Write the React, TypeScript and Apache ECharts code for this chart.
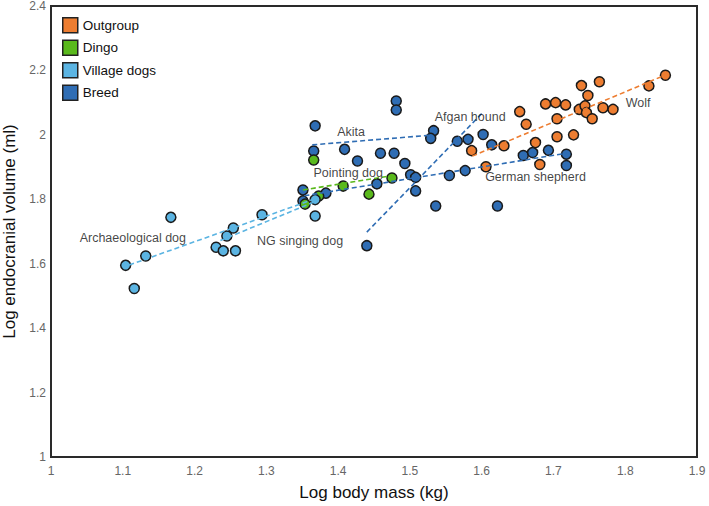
import React, { useEffect, useRef } from "react";
import * as echarts from "echarts";

// ---- Data ----
const seriesNames = ["Outgroup", "Dingo", "Village dogs", "Breed"];
const seriesColors = ["#ED7D31", "#5AB91C", "#5BB4E2", "#2F6DB4"];

const outgroup: number[][] = [
  [1.586, 1.951], [1.606, 1.901], [1.631, 1.966], [1.653, 2.072], [1.662, 2.033],
  [1.675, 1.976], [1.681, 1.908], [1.689, 2.096], [1.703, 2.1], [1.705, 2.05],
  [1.705, 1.994], [1.717, 2.093], [1.728, 2.0], [1.736, 2.079], [1.739, 2.153],
  [1.744, 2.09], [1.746, 2.069], [1.748, 2.122], [1.754, 2.05], [1.764, 2.165],
  [1.769, 2.084], [1.783, 2.079], [1.833, 2.152], [1.856, 2.185],
];

const dingo: number[][] = [
  [1.366, 1.922], [1.354, 1.785], [1.373, 1.81], [1.407, 1.841], [1.443, 1.816], [1.475, 1.866],
];

const villageDogs: number[][] = [
  [1.104, 1.595], [1.116, 1.523], [1.132, 1.624], [1.167, 1.744], [1.23, 1.651],
  [1.24, 1.64], [1.257, 1.64], [1.245, 1.686], [1.254, 1.711], [1.294, 1.752],
  [1.368, 1.799], [1.368, 1.748],
];

const breed: number[][] = [
  [1.368, 2.028], [1.366, 1.95], [1.409, 1.955], [1.427, 1.919], [1.459, 1.943],
  [1.478, 1.943], [1.481, 2.105], [1.481, 2.077], [1.493, 1.911], [1.501, 1.876],
  [1.508, 1.868], [1.508, 1.826], [1.454, 1.848], [1.383, 1.819], [1.351, 1.829],
  [1.351, 1.795], [1.44, 1.656], [1.533, 2.013], [1.529, 1.989], [1.566, 1.98],
  [1.581, 1.986], [1.602, 2.001], [1.614, 1.969], [1.555, 1.874], [1.577, 1.889],
  [1.536, 1.779], [1.622, 1.779], [1.658, 1.936], [1.671, 1.945], [1.693, 1.952],
  [1.718, 1.94], [1.718, 1.905],
];

// dashed trend lines (start, end) and their group colour index
const wolfLine = [[1.587, 1.934], [1.855, 2.185]];
const archaeologicalLine = [[1.109, 1.596], [1.367, 1.801]];
const ngSingingLine = [[1.236, 1.672], [1.367, 1.792]];
const dingoLine = [[1.351, 1.829], [1.474, 1.873]];
const akitaLine = [[1.364, 1.969], [1.529, 1.999]];
const shepherdLine = [[1.353, 1.811], [1.718, 1.943]];
const afganLine = [[1.44, 1.698], [1.601, 2.068]];

const trendLines = [
  { line: wolfLine, group: 0 },
  { line: dingoLine, group: 1 },
  { line: archaeologicalLine, group: 2 },
  { line: ngSingingLine, group: 2 },
  { line: akitaLine, group: 3 },
  { line: shepherdLine, group: 3 },
  { line: afganLine, group: 3 },
];

const annotationTexts = [
  "Archaeological dog", "NG singing dog", "Akita", "Pointing dog",
  "Afgan hound", "German shepherd", "Wolf",
];
const annotationAt = [
  [1.114, 1.68], [1.347, 1.672], [1.418, 2.009], [1.414, 1.883],
  [1.584, 2.056], [1.675, 1.868], [1.818, 2.098],
];

const xMin = 1, xMax = 1.9, xStep = 0.1;
const yMin = 1, yMax = 2.4, yStep = 0.2;
const xTitle = "Log body mass (kg)";
const yTitle = "Log endocranial volume (ml)";

const FONT = "Liberation Sans, Arial, sans-serif";

export default function App() {
  const ref = useRef<HTMLDivElement>(null);
  useEffect(() => {
    if (!ref.current) return;
    const chart = echarts.init(ref.current, undefined, { renderer: "svg" });
    const groups = [outgroup, dingo, villageDogs, breed];
    const drawOrder = [3, 1, 2, 0];
    const scatterSeries = drawOrder.map((g) => ({
      type: "scatter",
      name: seriesNames[g],
      data: groups[g],
      symbol: "circle",
      symbolSize: 10,
      itemStyle: { color: seriesColors[g], borderColor: "#1a1a1a", borderWidth: 1.5, opacity: 1 },
      z: 2,
    }));
    const lineSeries = trendLines.map((t, i) => ({
      type: "line",
      name: "trend" + i,
      data: t.line,
      symbol: "none",
      lineStyle: { color: seriesColors[t.group], width: 1.6, type: [5, 3] },
      z: 3,
      silent: true,
    }));
    const annotationSeries = {
      type: "scatter",
      name: "annotations",
      data: annotationAt.map((p, i) => ({ value: p, name: annotationTexts[i] })),
      symbolSize: 0,
      itemStyle: { color: "transparent" },
      label: {
        show: true,
        position: "inside",
        formatter: (p: any) => p.name,
        color: "#111",
        textBorderWidth: 0,
        textBorderColor: "transparent",
        fontSize: 12.5,
        fontFamily: FONT,
      },
      z: 4,
      silent: true,
    };
    chart.setOption({
      animation: false,
      backgroundColor: "#fff",
      grid: {
        left: 51, right: 12, top: 6, bottom: 49,
        outerBoundsMode: "none",
        containLabel: false,
        show: true, borderColor: "#2a2a2a", borderWidth: 2, backgroundColor: "transparent",
      },
      legend: {
        data: seriesNames,
        orient: "vertical",
        left: 62,
        top: 17,
        padding: 0,
        icon: "rect",
        itemWidth: 15,
        itemHeight: 15,
        itemGap: 6,
        itemStyle: { borderColor: "#222", borderWidth: 1.5 },
        textStyle: { color: "#111", fontSize: 13.5, fontFamily: FONT },
      },
      xAxis: {
        type: "value",
        min: xMin, max: xMax, interval: xStep,
        name: xTitle,
        nameLocation: "middle",
        nameGap: 27,
        nameTextStyle: { color: "#111", fontSize: 17, fontFamily: FONT },
        axisLine: { show: false },
        axisTick: { show: false },
        splitLine: { show: false },
        axisLabel: { color: "#666", fontSize: 12, fontFamily: FONT, margin: 8 },
      },
      yAxis: {
        type: "value",
        min: yMin, max: yMax, interval: yStep,
        name: yTitle,
        nameLocation: "middle",
        nameGap: 29,
        nameTextStyle: { color: "#111", fontSize: 17, fontFamily: FONT },
        axisLine: { show: false },
        axisTick: { show: false },
        splitLine: { show: false },
        axisLabel: { color: "#666", fontSize: 12, fontFamily: FONT, margin: 5 },
      },
      series: [...scatterSeries, ...lineSeries, annotationSeries],
    });
    return () => chart.dispose();
  }, []);
  return (
    <div
      ref={ref}
      style={{ position: "fixed", left: 0, top: 0, width: 709, height: 506 }}
    />
  );
}
